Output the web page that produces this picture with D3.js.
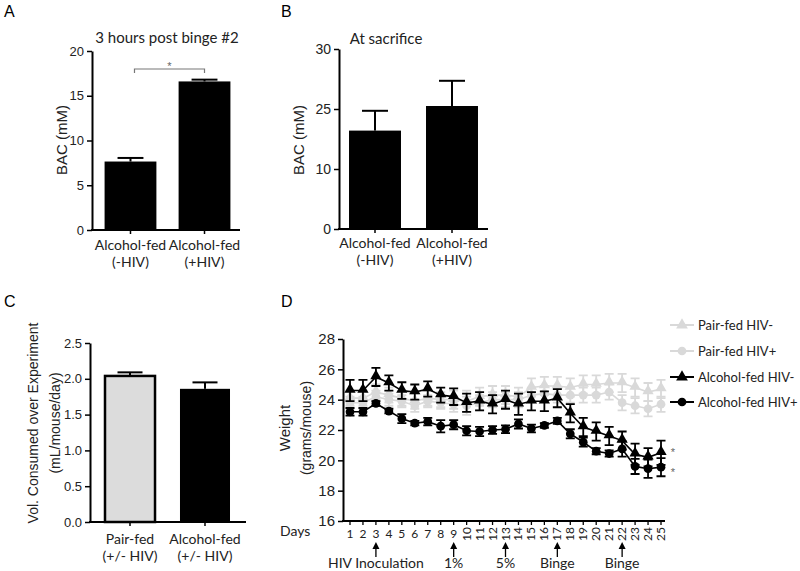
<!DOCTYPE html>
<html><head><meta charset="utf-8">
<script src="https://cdn.jsdelivr.net/npm/d3@7"></script>
<style>
body{margin:0;background:#fff}
svg{display:block}
</style>
</head><body>
<svg id="chart" width="800" height="571"></svg>
<script>
// ---------- DATA ----------
const catsA = [["Alcohol-fed","(-HIV)"],["Alcohol-fed","(+HIV)"]];
const valsA = [7.65, 16.6];
const errA = [0.4, 0.2];
const ticksA = [0,5,10,15,20];

const catsB = [["Alcohol-fed","(-HIV)"],["Alcohol-fed","(+HIV)"]];
const valsB = [16.4, 20.5];
const errB = [3.3, 4.2];
const tickValsB = [0,10,20,30];
const tickLabelsB = ["0","10","25","30"];

const catsC = [["Pair-fed","(+/- HIV)"],["Alcohol-fed","(+/- HIV)"]];
const valsC = [2.04, 1.86];
const errC = [0.05, 0.09];
const colorsC = ["#dcdcdc", "#000000"];
const ticksC = [0,0.5,1.0,1.5,2.0,2.5];

const days = [1,2,3,4,5,6,7,8,9,10,11,12,13,14,15,16,17,18,19,20,21,22,23,24,25];
const ticksD = [16,18,20,22,24,26,28];
const pairNeg    = [24.1,24.1,24.5,24.3,24.1,23.9,24.1,24.0,24.0,23.9,24.2,24.3,24.3,24.2,24.8,24.9,24.9,24.8,25.0,25.0,25.1,25.1,24.8,24.5,24.7];
const pairNegErr = [0.5,0.5,0.5,0.5,0.5,0.5,0.5,0.5,0.6,0.7,0.6,0.6,0.6,0.6,0.6,0.6,0.6,0.6,0.6,0.6,0.6,0.6,0.6,0.6,0.6];
const pairPos    = [23.8,23.8,24.2,24.0,23.9,23.6,23.9,23.8,23.7,23.6,23.8,24.0,24.0,24.0,24.3,24.4,24.3,24.3,24.3,24.3,24.5,23.8,23.6,23.4,23.7];
const pairPosErr = [0.4,0.4,0.4,0.4,0.4,0.4,0.4,0.4,0.5,0.6,0.5,0.5,0.5,0.5,0.5,0.5,0.5,0.5,0.5,0.5,0.5,0.5,0.5,0.5,0.5];
const alcNeg     = [24.6,24.6,25.5,25.1,24.6,24.5,24.7,24.3,24.2,23.8,23.9,23.7,24.0,23.7,23.9,23.9,24.1,23.1,22.2,21.9,21.6,21.3,20.4,20.2,20.5];
const alcNegErr  = [0.7,0.7,0.6,0.5,0.55,0.5,0.5,0.5,0.55,0.6,0.6,0.6,0.6,0.7,0.6,0.65,0.6,0.6,0.6,0.6,0.6,0.6,0.7,0.6,0.8];
const alcPos     = [23.2,23.2,23.75,23.25,22.75,22.45,22.55,22.25,22.35,21.95,21.9,22.0,22.05,22.4,22.1,22.3,22.6,21.75,21.2,20.6,20.45,20.75,19.6,19.45,19.55];
const alcPosErr  = [0.25,0.25,0.15,0.15,0.3,0.15,0.25,0.4,0.3,0.3,0.3,0.25,0.25,0.3,0.25,0.15,0.2,0.3,0.3,0.2,0.2,0.5,0.5,0.6,0.6];
const seriesNames = ["Pair-fed HIV-","Pair-fed HIV+","Alcohol-fed HIV-","Alcohol-fed HIV+"];
const arrowDays = [3,9,13,17,22];
const arrowLabels = ["HIV Inoculation","1%","5%","Binge","Binge"];

// ---------- DRAW ----------
const svg = d3.select("#chart");
svg.append("rect").attr("width",800).attr("height",571).attr("fill","#fff");
const NUM = "'Liberation Sans', Arial, sans-serif";
const TXT = "Lato, 'Open Sans', sans-serif";

function panelLetter(t,x,y){
  svg.append("text").attr("x",x).attr("y",y).text(t)
    .style("font-family",NUM).style("font-size","16px").attr("fill","#000");
}

function barPanel(o){
  const g = svg.append("g");
  const y = d3.scaleLinear().domain(o.domain).range([o.y0,o.y1]);
  const x = d3.scaleBand().domain(o.cats.map((c,i)=>i)).range(o.xr)
    .paddingInner(o.pi).paddingOuter(o.po);
  o.vals.forEach((v,i)=>{
    const col = o.colors ? o.colors[i] : "#000";
    const cx = x(i)+x.bandwidth()/2;
    g.append("line").attr("x1",cx).attr("x2",cx).attr("y1",y(v)).attr("y2",y(v+o.err[i]))
      .attr("stroke","#000").attr("stroke-width",2);
    g.append("line").attr("x1",cx-x.bandwidth()*0.25).attr("x2",cx+x.bandwidth()*0.25)
      .attr("y1",y(v+o.err[i])).attr("y2",y(v+o.err[i])).attr("stroke","#000").attr("stroke-width",2);
    g.append("rect").attr("x",x(i)).attr("width",x.bandwidth())
      .attr("y",y(v)).attr("height",y(0)-y(v)).attr("fill",col)
      .attr("stroke","#000").attr("stroke-width",col==="#000"||col==="#000000"?0:2.5);
  });
  const ax = d3.axisLeft(y).tickValues(o.ticks).tickSize(5).tickSizeOuter(0)
    .tickFormat((d,i)=>o.tickLabels?o.tickLabels[i]:(o.fmt?o.fmt(d):d));
  const ga = g.append("g").attr("transform",`translate(${o.xr[0]},0)`).call(ax);
  ga.select(".domain").attr("stroke-width",2);
  ga.selectAll(".tick line").attr("stroke-width",1.5);
  ga.selectAll(".tick text").style("font-family",NUM).style("font-size",o.tickFs+"px").attr("fill","#222");
  g.append("line").attr("x1",o.xr[0]-1).attr("x2",o.xEnd).attr("y1",y(0)).attr("y2",y(0))
    .attr("stroke","#000").attr("stroke-width",2);
  o.cats.forEach((c,i)=>{
    const cx = x(i)+x.bandwidth()/2;
    g.append("line").attr("x1",cx).attr("x2",cx).attr("y1",y(0)).attr("y2",y(0)+4)
      .attr("stroke","#000").attr("stroke-width",1.5);
    c.forEach((line,j)=>{
      g.append("text").attr("x",cx).attr("y",y(0)+o.catDy+j*17).attr("text-anchor","middle")
        .style("font-family",TXT).style("font-size","14px").attr("fill","#222").text(line);
    });
  });
  o.ylab.forEach((l,j)=>{
    g.append("text").attr("transform",`translate(${o.ylabX+j*o.ylabStep},${o.ylabY}) rotate(-90)`)
      .attr("text-anchor","middle").style("font-family",NUM).style("font-size",o.ylabFs+"px")
      .attr("fill","#222").text(l);
  });
  if(o.title){
    g.append("text").attr("x",o.title.x).attr("y",o.title.y).attr("text-anchor","middle")
      .style("font-family",TXT).style("font-size","15px").attr("fill","#222").text(o.title.t);
  }
  return {x,y,g};
}

// Panel A
panelLetter("A",4,17);
const pA = barPanel({cats:catsA, vals:valsA, err:errA, domain:[0,20], y0:230, y1:51,
  xr:[92,243], xEnd:240, pi:0.3, po:0.17, ticks:ticksA, tickFs:13,
  catDy:20, ylab:["BAC (mM)"], ylabX:67, ylabStep:0, ylabY:140, ylabFs:15,
  title:{t:"3 hours post binge #2", x:167, y:43}});
{
  const c1 = pA.x(0)+pA.x.bandwidth()/2, c2 = pA.x(1)+pA.x.bandwidth()/2;
  pA.g.append("path").attr("d",`M${c1+4},73 V69 H${c2} V73`).attr("fill","none")
    .attr("stroke","#777").attr("stroke-width",1.2);
  pA.g.append("text").attr("x",(c1+4+c2)/2).attr("y",70).attr("text-anchor","middle")
    .style("font-family",NUM).style("font-size","11px").attr("fill","#666").text("*");
}

// Panel B
panelLetter("B",281,17);
barPanel({cats:catsB, vals:valsB, err:errB, domain:[0,30], y0:229, y1:49,
  xr:[339,488], xEnd:488, pi:0.325, po:0.13, ticks:tickValsB, tickLabels:tickLabelsB, tickFs:14,
  catDy:19, ylab:["BAC (mM)"], ylabX:304, ylabStep:0, ylabY:140, ylabFs:15,
  title:{t:"At sacrifice", x:386, y:44}});

// Panel C
panelLetter("C",4,307);
barPanel({cats:catsC, vals:valsC, err:errC, colors:colorsC, domain:[0,2.5], y0:522, y1:343,
  xr:[90,245], xEnd:246, pi:0.333, po:0.2, ticks:ticksC, fmt:d3.format(".1f"), tickFs:13,
  catDy:22, ylab:["Vol. Consumed over Experiment","(mL/mouse/day)"], ylabX:38, ylabStep:22, ylabY:423, ylabFs:14});

// Panel D
panelLetter("D",281,307);
const gD = svg.append("g");
const xD = d3.scaleLinear().domain([1,25]).range([350,661]);
const yD = d3.scaleLinear().domain([16,28]).range([521,339]);
const GRAY = "#d9d9d9";
const series = [
  {vals:pairNeg, err:pairNegErr, color:GRAY, sym:d3.symbolTriangle},
  {vals:pairPos, err:pairPosErr, color:GRAY, sym:d3.symbolCircle},
  {vals:alcNeg, err:alcNegErr, color:"#000", sym:d3.symbolTriangle},
  {vals:alcPos, err:alcPosErr, color:"#000", sym:d3.symbolCircle}
];
series.forEach(s=>{
  gD.append("path").datum(s.vals).attr("fill","none").attr("stroke",s.color).attr("stroke-width",1.6)
    .attr("d",d3.line().x((d,i)=>xD(days[i])).y(d=>yD(d)));
  s.vals.forEach((v,i)=>{
    const cx = xD(days[i]);
    const t = yD(v+s.err[i]), b = yD(v-s.err[i]);
    gD.append("path").attr("d",`M${cx},${t}V${b}M${cx-4.5},${t}H${cx+4.5}M${cx-4.5},${b}H${cx+4.5}`)
      .attr("stroke",s.color).attr("stroke-width",1.8).attr("fill","none");
  });
  s.vals.forEach((v,i)=>{
    const sz = s.sym===d3.symbolTriangle?55:60;
    gD.append("path").attr("d",d3.symbol(s.sym,sz)())
      .attr("transform",`translate(${xD(days[i])},${yD(v)+(s.sym===d3.symbolTriangle?-1:0)})`)
      .attr("fill",s.color);
  });
});
{
  const ax = d3.axisLeft(yD).tickValues(ticksD).tickSize(5).tickSizeOuter(0);
  const ga = gD.append("g").attr("transform","translate(343,0)").call(ax);
  ga.select(".domain").attr("stroke-width",2);
  ga.selectAll(".tick line").attr("stroke-width",1.5);
  ga.selectAll(".tick text").style("font-family",NUM).style("font-size","15px").attr("fill","#222");
}
gD.append("line").attr("x1",342).attr("x2",665).attr("y1",521).attr("y2",521)
  .attr("stroke","#000").attr("stroke-width",2);
days.forEach(d=>{
  const cx = xD(d);
  gD.append("line").attr("x1",cx).attr("x2",cx).attr("y1",521).attr("y2",525)
    .attr("stroke","#000").attr("stroke-width",1.3);
  if(d<10){
    gD.append("text").attr("x",cx).attr("y",538).attr("text-anchor","middle")
      .style("font-family",TXT).style("font-size","12px").attr("fill","#222").text(d);
  } else {
    gD.append("text").attr("transform",`translate(${cx+4},527) rotate(-90)`).attr("text-anchor","end")
      .style("font-family",TXT).style("font-size","12px").attr("fill","#222").text(d);
  }
});
gD.append("text").attr("x",280).attr("y",536).style("font-family",TXT).style("font-size","14px")
  .attr("fill","#222").text("Days");
arrowDays.forEach((d,i)=>{
  const cx = xD(d);
  gD.append("line").attr("x1",cx).attr("x2",cx).attr("y1",557).attr("y2",547)
    .attr("stroke","#000").attr("stroke-width",1.3);
  gD.append("path").attr("d",`M${cx},542 L${cx-3.5},549 L${cx+3.5},549 Z`).attr("fill","#000");
  gD.append("text").attr("x",cx).attr("y",568).attr("text-anchor","middle")
    .style("font-family",TXT).style("font-size","14px").attr("fill","#222").text(arrowLabels[i]);
});
gD.append("text").attr("transform","translate(290,428) rotate(-90)").attr("text-anchor","middle")
  .style("font-family",NUM).style("font-size","15px").attr("fill","#222").text("Weight");
gD.append("text").attr("transform","translate(311,428) rotate(-90)").attr("text-anchor","middle")
  .style("font-family",NUM).style("font-size","14px").attr("fill","#222").text("(grams/mouse)");
[alcNeg, alcPos].forEach((s,k)=>{
  gD.append("text").attr("x",673).attr("y",yD(s[s.length-1])+ (k===0?3:9)).attr("text-anchor","middle")
    .style("font-family",NUM).style("font-size","11px").attr("fill","#666").text("*");
});
const legY = [325,351,377,402];
series.forEach((s,i)=>{
  const ly = legY[i];
  gD.append("line").attr("x1",670).attr("x2",694).attr("y1",ly).attr("y2",ly)
    .attr("stroke",s.color).attr("stroke-width",2);
  gD.append("path").attr("d",d3.symbol(s.sym,60)()).attr("transform",`translate(682,${ly})`).attr("fill",s.color);
  gD.append("text").attr("x",698).attr("y",ly+5).style("font-family",TXT).style("font-size","13px")
    .attr("fill","#222").text(seriesNames[i]);
});
</script>
</body></html>
